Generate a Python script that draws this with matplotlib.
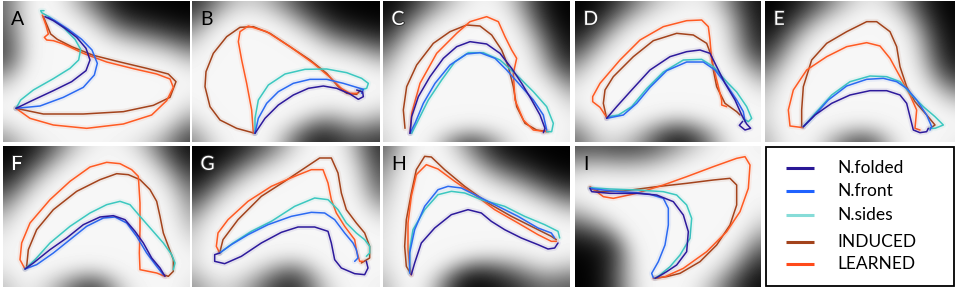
import numpy as np
import matplotlib
matplotlib.use("Agg")
import matplotlib.pyplot as plt
import matplotlib.patheffects as pe
from matplotlib.patches import Rectangle
from matplotlib.path import Path

plt.rcParams['font.family'] = ['Lato', 'DejaVu Sans']

series_names = ["INDUCED", "LEARNED", "N.sides", "N.front", "N.folded"]
legend_order = ["N.folded", "N.front", "N.sides", "INDUCED", "LEARNED"]
colors = {"N.folded": "#2d1a9c", "N.front": "#2b6af2", "N.sides": "#3cc8c0",
          "INDUCED": "#a3431c", "LEARNED": "#ff5a22"}
legend_colors = {"N.folded": "#2a1896", "N.front": "#1f62ff", "N.sides": "#86dcd8",
                 "INDUCED": "#a3431c", "LEARNED": "#ff4a1a"}
panel_labels = ["A", "B", "C", "D", "E", "F", "G", "H", "I"]
label_dark = [True, True, False, False, False, False, False, True, True]

# contour traces per panel (x, y in image units, y downward)
A_folded = [(48,325),(100,300),(160,272),(215,245),(258,212),(270,180),(258,145),(230,112),(195,85),(160,62),(135,50)]
A_front = [(48,325),(120,318),(190,292),(250,262),(283,225),(292,190),(276,150),(245,118),(205,88),(165,62),(145,52)]
A_sides = [(48,325),(62,300),(100,270),(160,236),(210,205),(236,180),(242,148),(225,118),(190,82),(150,52),(125,38),(122,32),(132,32)]
A_induced = [(48,325),(130,342),(250,342),(370,335),(460,316),(510,292),(528,245),(505,222),(440,205),(360,186),(280,166),(215,140),(172,118),(152,102),(142,78),(130,50)]
A_learned = [(48,325),(90,355),(160,375),(260,385),(370,372),(455,345),(500,302),(520,262),(510,237),(470,222),(400,206),(320,186),(250,160),(190,132),(160,122),(140,120),(133,112),(145,102),(138,76),(127,45)]

B_folded = [(195,400),(225,355),(265,315),(310,285),(355,265),(400,258),(440,265),(480,282),(505,298),(520,290),(518,276),(500,270)]
B_front = [(195,400),(205,355),(230,310),(265,275),(310,250),(360,238),(410,238),(460,250),(500,262),(520,268),(515,280)]
B_sides = [(195,400),(195,355),(205,300),(235,255),(285,222),(345,208),(410,207),(470,218),(515,235),(535,250),(530,265),(510,270)]
B_induced = [(195,400),(140,385),(90,360),(60,320),(45,260),(48,215),(70,160),(110,110),(150,82),(190,80),(240,100),(300,140),(360,180),(410,220),(445,260),(470,280),(500,283),(512,270)]
B_learned = [(190,400),(185,330),(170,250),(155,180),(145,125),(150,95),(175,78),(230,95),(300,140),(370,190),(420,232),(455,266),(480,280),(502,280)]

C_folded = [(90,400),(95,350),(115,290),(150,230),(190,175),(230,140),(270,125),(320,132),(360,160),(395,205),(425,250),(455,300),(480,345),(495,385),(490,398)]
C_front = [(90,400),(105,370),(130,310),(165,250),(210,195),(260,162),(300,158),(345,175),(380,210),(420,255),(460,300),(490,345),(500,390)]
C_sides = [(95,400),(115,360),(145,300),(185,240),(225,185),(265,158),(310,158),(360,180),(410,225),(460,275),(500,320),(520,370),(515,395),(500,395)]
C_induced = [(75,385),(70,330),(80,260),(110,195),(160,130),(210,95),(260,75),(300,78),(335,105),(365,150),(385,200),(400,260),(410,320),(435,370),(470,390),(505,395)]
C_learned = [(90,400),(95,340),(120,250),(170,160),(230,100),(270,65),(320,50),(355,65),(375,110),(395,150),(410,175),(400,220),(405,300),(430,360),(460,390),(500,395)]

D_folded = [(110,355),(140,320),(185,270),(240,210),(300,170),(350,155),(390,150),(420,160),(440,200),(465,250),(495,300),(515,345),(530,372),(542,385),(525,390),(508,376),(518,364)]
D_front = [(110,355),(160,345),(200,310),(240,262),(290,212),(350,186),(400,186),(435,210),(470,255),(500,300),(520,335),(525,365)]
D_sides = [(115,350),(145,345),(185,320),(230,266),(280,216),(340,180),(395,178),(430,200),(465,240),(500,276),(530,320),(545,355),(535,365),(520,356)]
D_induced = [(110,355),(100,310),(105,270),(130,230),(190,170),(250,122),(320,100),(370,105),(410,130),(425,170),(430,210),(440,260),(465,310),(500,335),(510,345)]
D_learned = [(110,352),(90,322),(68,305),(68,290),(90,250),(150,180),(210,120),(280,80),(350,62),(395,60),(415,80),(420,120),(425,180),(440,240),(455,300),(455,315),(470,320)]

E_folded = [(130,380),(165,345),(215,310),(270,285),(330,272),(380,272),(420,285),(440,310),(450,350),(460,390),(480,398),(500,395),(505,385)]
E_front = [(130,380),(160,350),(205,300),(260,258),(320,238),(370,235),(410,245),(440,265),(470,300),(500,345),(515,380),(510,390)]
E_sides = [(130,380),(170,335),(215,285),(270,245),(330,228),(380,230),(420,245),(455,285),(490,320),(525,350),(550,375),(525,385),(510,385)]
E_induced = [(125,380),(125,330),(130,260),(155,180),(200,130),(260,95),(320,65),(350,65),(390,95),(410,140),(420,200),(440,260),(465,305),(500,345),(525,375),(510,385)]
E_learned = [(130,383),(90,378),(85,330),(100,270),(140,210),(200,170),(260,140),(320,128),(360,138),(390,175),(420,230),(450,285),(470,330),(465,385),(480,390)]

F_folded = [(75,378),(100,360),(150,320),(200,285),(250,245),(300,222),(340,218),(375,230),(405,265),(430,300),(455,345),(480,375),(495,400)]
F_front = [(75,378),(110,365),(160,330),(210,290),(260,250),(310,225),(345,222),(380,240),(410,280),(440,330),(470,370),(490,395)]
F_sides = [(75,378),(105,350),(150,300),(210,250),(270,210),(320,185),(360,175),(390,185),(420,220),(455,260),(490,300),(515,335),(525,360),(520,380)]
F_induced = [(80,370),(85,320),(110,260),(160,200),(230,145),(300,110),(350,92),(385,95),(420,110),(450,140),(470,175),(480,220),(490,270),(505,310),(520,350),(520,385),(505,400),(490,395)]
F_learned = [(75,378),(60,350),(65,300),(90,240),(150,170),(210,115),(270,72),(320,58),(360,62),(395,80),(415,100),(420,180),(420,260),(418,330),(420,380),(470,390),(495,400)]

G_folded = [(95,330),(80,335),(80,355),(110,362),(160,340),(220,300),(280,268),(330,252),(380,252),(420,265),(430,300),(440,350),(460,375),(500,392),(530,395),(540,375),(535,355)]
G_front = [(95,330),(130,305),(180,275),(240,245),(310,220),(370,208),(410,210),(440,230),(470,270),(495,300),(505,320),(510,345),(500,355)]
G_sides = [(95,330),(135,300),(190,265),(250,235),(320,190),(380,165),(420,170),(450,200),(475,240),(505,270),(530,290),(545,310),(545,330),(535,340)]
G_induced = [(95,330),(105,290),(150,230),(220,160),(290,115),(350,75),(395,45),(430,45),(450,90),(460,150),(475,200),(505,240),(530,270),(545,310),(545,345),(520,360)]
G_learned = [(95,330),(85,310),(90,270),(120,230),(180,175),(250,130),(320,100),(370,80),(405,80),(420,120),(430,170),(445,210),(470,250),(500,290),(505,320),(515,355),(525,355)]

H_folded = [(100,395),(110,360),(130,300),(170,255),(220,215),(270,200),(310,210),(340,235),(380,260),(430,285),(480,305),(510,318),(530,315),(540,300)]
H_front = [(95,390),(95,330),(110,260),(140,190),(180,140),(210,130),(250,135),(300,160),(360,190),(420,220),(480,255),(520,270),(530,285)]
H_sides = [(95,390),(95,320),(105,260),(140,200),(180,155),(220,145),(260,150),(310,170),(380,190),(440,220),(500,245),(540,265),(545,285)]
H_induced = [(100,395),(85,370),(80,310),(85,230),(100,150),(115,80),(140,40),(160,42),(200,80),(260,130),(330,180),(400,220),(470,255),(520,280),(535,290)]
H_learned = [(100,395),(95,370),(90,320),(90,240),(100,160),(115,95),(145,65),(180,78),(230,115),(290,155),(350,200),(420,240),(480,275),(520,295),(535,295)]

I_folded = [(60,130),(65,140),(120,145),(200,145),(260,150),(310,170),(340,210),(355,260),(350,320),(320,360),(290,380),(265,395),(255,400)]
I_front = [(60,130),(100,135),(150,140),(200,143),(240,148),(280,160),(295,190),(295,240),(285,300),(265,350),(245,385),(250,398)]
I_sides = [(60,128),(120,132),(200,135),(280,140),(320,150),(350,180),(365,220),(360,280),(330,330),(300,365),(270,390),(255,400)]
I_induced = [(60,130),(90,140),(160,138),(260,125),(350,115),(430,105),(480,100),(500,120),(500,180),(480,240),(440,300),(390,350),(330,385),(290,395),(255,400)]
I_learned = [(60,125),(80,140),(100,155),(130,160),(200,145),(280,120),(350,95),(430,65),(500,40),(525,35),(540,60),(535,130),(510,200),(470,260),(410,320),(340,370),(285,395),(250,400)]

panels = [
    {"N.folded": A_folded, "N.front": A_front, "N.sides": A_sides, "INDUCED": A_induced, "LEARNED": A_learned},
    {"N.folded": B_folded, "N.front": B_front, "N.sides": B_sides, "INDUCED": B_induced, "LEARNED": B_learned},
    {"N.folded": C_folded, "N.front": C_front, "N.sides": C_sides, "INDUCED": C_induced, "LEARNED": C_learned},
    {"N.folded": D_folded, "N.front": D_front, "N.sides": D_sides, "INDUCED": D_induced, "LEARNED": D_learned},
    {"N.folded": E_folded, "N.front": E_front, "N.sides": E_sides, "INDUCED": E_induced, "LEARNED": E_learned},
    {"N.folded": F_folded, "N.front": F_front, "N.sides": F_sides, "INDUCED": F_induced, "LEARNED": F_learned},
    {"N.folded": G_folded, "N.front": G_front, "N.sides": G_sides, "INDUCED": G_induced, "LEARNED": G_learned},
    {"N.folded": H_folded, "N.front": H_front, "N.sides": H_sides, "INDUCED": H_induced, "LEARNED": H_learned},
    {"N.folded": I_folded, "N.front": I_front, "N.sides": I_sides, "INDUCED": I_induced, "LEARNED": I_learned},
]

# ---- layout (pixels) ----
W, H = 957, 288
lefts = [3, 192, 383, 575, 765]
widths = [187, 188, 187, 186, 190]
tops = [1, 146]
ph = 141
offsets = [(9, 3), (6, 3), (9, 3), (15, 3), (15, 3), (9, 9), (12, 9), (15, 9), (15, 3)]

fig = plt.figure(figsize=(W / 100, H / 100), dpi=100)
fig.patch.set_facecolor("white")


def px_axes(l, t, w, h):
    return fig.add_axes([l / W, 1 - (t + h) / H, w / W, h / H])


def seg_dist(gx, gy, pts):
    pts = np.asarray(pts, float)
    d = np.full(gx.shape, np.inf)
    for (ax_, ay_), (bx_, by_) in zip(pts[:-1], pts[1:]):
        vx, vy = bx_ - ax_, by_ - ay_
        L = vx * vx + vy * vy
        if L == 0:
            continue
        t = np.clip(((gx - ax_) * vx + (gy - ay_) * vy) / L, 0, 1)
        dd = np.hypot(gx - ax_ - t * vx, gy - ay_ - t * vy)
        d = np.minimum(d, dd)
    return d


def blur(img, sigma):
    r = int(3 * sigma)
    k = np.exp(-0.5 * (np.arange(-r, r + 1) / sigma) ** 2)
    k /= k.sum()
    p = np.pad(img, r, mode="edge")
    p = np.apply_along_axis(lambda m: np.convolve(m, k, mode="valid"), 1, p)
    p = np.apply_along_axis(lambda m: np.convolve(m, k, mode="valid"), 0, p)
    return p


for i, pdata in enumerate(panels):
    row, col = divmod(i, 5)
    l, w = lefts[col], widths[col]
    t = tops[row]
    ax = px_axes(l, t, w, ph)
    ox, oy = offsets[i]
    x0, x1 = ox, ox + 3 * w
    y0, y1 = oy, oy + 3 * ph
    # background: smooth falloff with distance from the region spanned by the contours
    gx, gy = np.meshgrid(np.linspace(x0, x1, w), np.linspace(y0, y1, ph))
    d = np.full(gx.shape, np.inf)
    pts_grid = np.column_stack([gx.ravel(), gy.ravel()])
    inside = np.zeros(gx.size, bool)
    for name in series_names:
        d = np.minimum(d, seg_dist(gx, gy, pdata[name]))
        inside |= Path(np.asarray(pdata[name], float), closed=False).contains_points(pts_grid)
    d[inside.reshape(gx.shape)] = 0
    d = blur(d, 9)
    v = 0.965 * np.exp(-(np.maximum(d - 30, 0) / 80.0) ** 2)
    v = blur(v, 9)
    ax.imshow(v, cmap="gray", vmin=0, vmax=1, extent=[x0, x1, y1, y0],
              origin="upper", interpolation="bilinear", aspect="auto")
    for name in series_names:
        arr = np.asarray(pdata[name], float)
        ax.plot(arr[:, 0], arr[:, 1], color=colors[name], lw=4, alpha=0.08,
                solid_joinstyle="round", solid_capstyle="round")
        ax.plot(arr[:, 0], arr[:, 1], color=colors[name], lw=1.1,
                solid_joinstyle="round", solid_capstyle="round")
    ax.set_xlim(x0, x1)
    ax.set_ylim(y1, y0)
    ax.set_axis_off()
    if label_dark[i]:
        ax.text(0.045, 0.93, panel_labels[i], transform=ax.transAxes, fontsize=14,
                color="black", ha="left", va="top")
    else:
        ax.text(0.045, 0.93, panel_labels[i], transform=ax.transAxes, fontsize=14,
                color="white", ha="left", va="top",
                path_effects=[pe.withStroke(linewidth=1.5, foreground="#333333")])

# legend panel
lax = px_axes(765, 146, 190, 141)
lax.set_xlim(0, 190)
lax.set_ylim(141, 0)
lax.set_axis_off()
lax.add_patch(Rectangle((1, 1), 188, 139, fill=False, edgecolor="black", lw=1.3))
row_y = [22, 45, 69, 96, 118]
for name, y in zip(legend_order, row_y):
    lax.plot([21, 49], [y, y], color=legend_colors[name], lw=2.2, solid_capstyle="butt")
    lax.text(72, y, name, fontsize=12.5, color="black", ha="left", va="center")

fig.savefig("out.png", dpi=100)
